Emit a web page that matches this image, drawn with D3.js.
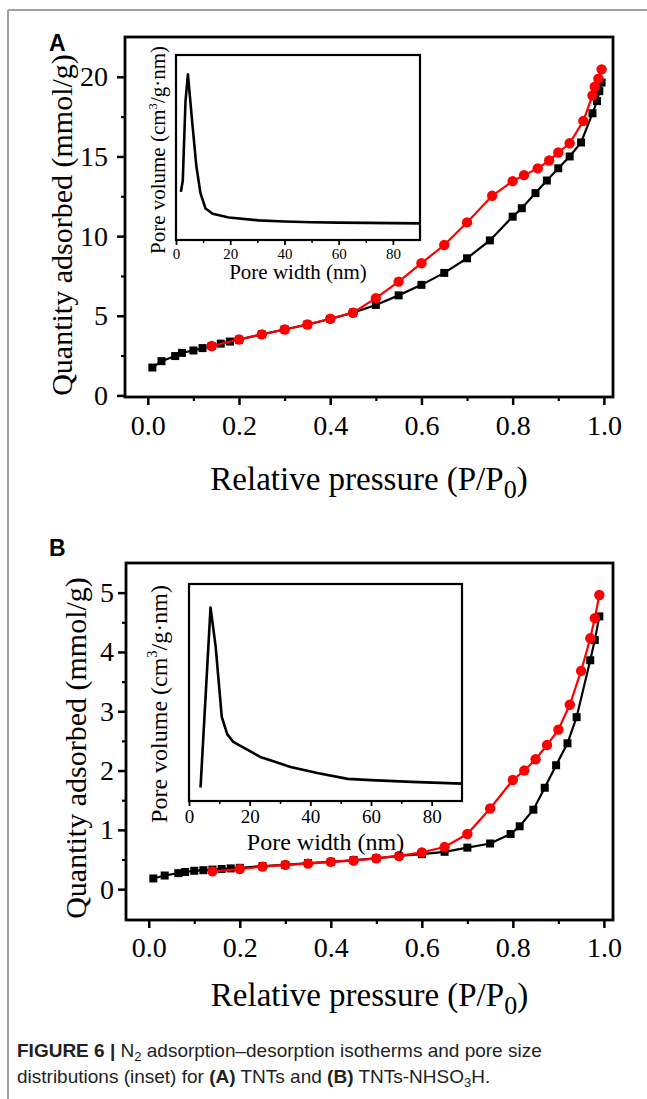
<!DOCTYPE html>
<html>
<head>
<meta charset="utf-8">
<script src="https://cdn.jsdelivr.net/npm/d3@7"></script>
<style>
html,body{margin:0;padding:0;background:#fff;}
svg{display:block;}
</style>
</head>
<body>
<svg id="fig" width="647" height="1099"></svg>
<script>
// ---------------- DATA ----------------
// Panel A (TNTs) – adsorption (black squares)
const aAdsP = [0.01,0.03,0.06,0.075,0.10,0.12,0.14,0.16,0.18,0.20,0.25,0.30,0.35,0.40,0.45,0.50,0.55,0.60,0.65,0.70,0.75,0.80,0.82,0.85,0.875,0.90,0.925,0.95,0.975,0.985,0.99,0.995];
const aAdsQ = [1.75,2.15,2.47,2.67,2.82,2.97,3.10,3.25,3.38,3.50,3.83,4.14,4.45,4.80,5.20,5.68,6.28,6.94,7.69,8.61,9.73,11.22,11.75,12.70,13.49,14.26,15.00,15.88,17.71,18.48,19.10,19.64];
// Panel A – desorption (red circles)
const aDesP = [0.14,0.20,0.25,0.30,0.35,0.40,0.45,0.50,0.55,0.60,0.65,0.70,0.755,0.80,0.825,0.855,0.88,0.90,0.925,0.955,0.975,0.98,0.988,0.995];
const aDesQ = [3.10,3.51,3.83,4.14,4.45,4.81,5.19,6.11,7.14,8.30,9.44,10.86,12.53,13.45,13.83,14.25,14.75,15.25,15.83,17.23,18.83,19.38,19.88,20.47];
// Panel A inset – pore size distribution (arbitrary units)
const aPoreW = [1.8,2.5,3.5,4.4,5.9,7.5,9.0,10.9,13.5,19.5,30.6,40,50,60,90];
const aPoreV = [2.6,3.2,7.5,8.95,6.5,4.0,2.55,1.7,1.42,1.22,1.06,1.0,0.96,0.94,0.9];

// Panel B (TNTs-NHSO3H) – adsorption
const bAdsP = [0.01,0.035,0.065,0.08,0.10,0.12,0.14,0.16,0.18,0.20,0.25,0.30,0.35,0.40,0.45,0.50,0.55,0.60,0.65,0.70,0.75,0.795,0.815,0.845,0.87,0.895,0.92,0.94,0.97,0.98,0.99];
const bAdsQ = [0.18,0.23,0.27,0.29,0.31,0.32,0.33,0.34,0.35,0.36,0.39,0.41,0.44,0.46,0.49,0.52,0.56,0.59,0.63,0.70,0.77,0.93,1.06,1.34,1.71,2.09,2.46,2.90,3.86,4.20,4.60];
// Panel B – desorption
const bDesP = [0.14,0.20,0.25,0.30,0.35,0.40,0.45,0.50,0.55,0.60,0.65,0.70,0.75,0.80,0.825,0.85,0.875,0.90,0.925,0.95,0.97,0.98,0.99];
const bDesQ = [0.30,0.34,0.38,0.41,0.43,0.46,0.48,0.52,0.56,0.62,0.71,0.93,1.36,1.84,2.00,2.19,2.43,2.69,3.11,3.68,4.23,4.57,4.96];
// Panel B inset
const bPoreW = [3.8,7.1,8.8,10.8,12.6,14.6,23.5,33.5,42.3,52.3,60,73.3,90];
const bPoreV = [0.62,8.92,7.1,3.88,3.08,2.72,2.03,1.57,1.29,1.02,0.96,0.88,0.80];

// Ticks
const xTicks = [0,0.2,0.4,0.6,0.8,1.0];
const xMinor = [0.1,0.3,0.5,0.7,0.9];
const aYTicks = [0,5,10,15,20];
const aYMinor = [2.5,7.5,12.5,17.5];
const bYTicks = [0,1,2,3,4,5];
const bYMinor = [0.5,1.5,2.5,3.5,4.5];
const insetTicks = [0,20,40,60,80];
const insetMinor = [10,30,50,70];

// -------------- DRAW --------------
const svg = d3.select('#fig');
const SERIF = '"Liberation Serif","Times New Roman",serif';
const SANS = '"Liberation Sans",Arial,sans-serif';

// figure border (top and left)
svg.append('line').attr('x1',8).attr('x2',647).attr('y1',10).attr('y2',10).attr('stroke','#a0a0a0').attr('stroke-width',2);
svg.append('line').attr('x1',8).attr('x2',8).attr('y1',10).attr('y2',1099).attr('stroke','#a0a0a0').attr('stroke-width',2);

function panel(cfg){
  const g = svg.append('g');
  const x = d3.scaleLinear().domain([-0.05,1.02]).range([cfg.left,cfg.right]);
  const y = d3.scaleLinear().domain(cfg.yDomain).range([cfg.bottom,cfg.top]);

  // minor ticks
  g.append('g').attr('transform',`translate(0,${cfg.bottom})`)
    .call(d3.axisBottom(x).tickValues(xMinor).tickSize(4).tickFormat(''))
    .call(a=>{a.select('.domain').remove(); a.selectAll('line').attr('stroke-width',2.2);});
  g.append('g').attr('transform',`translate(${cfg.left},0)`)
    .call(d3.axisLeft(y).tickValues(cfg.yMinor).tickSize(4).tickFormat(''))
    .call(a=>{a.select('.domain').remove(); a.selectAll('line').attr('stroke-width',2.2);});
  // major ticks
  g.append('g').attr('transform',`translate(0,${cfg.bottom})`)
    .call(d3.axisBottom(x).tickValues(xTicks).tickSize(8).tickPadding(cfg.xPad).tickFormat(d3.format('.1f')))
    .call(a=>{a.select('.domain').remove(); a.selectAll('line').attr('stroke-width',2.5);
      a.selectAll('text').attr('font-family',SERIF).attr('font-size',28).attr('fill','#000');});
  g.append('g').attr('transform',`translate(${cfg.left},0)`)
    .call(d3.axisLeft(y).tickValues(cfg.yTicks).tickSize(8).tickPadding(cfg.yPad).tickFormat(d3.format('d')))
    .call(a=>{a.select('.domain').remove(); a.selectAll('line').attr('stroke-width',2.5);
      a.selectAll('text').attr('font-family',SERIF).attr('font-size',28).attr('fill','#000');});

  // data
  const line = d3.line().x(d=>x(d[0])).y(d=>y(d[1]));
  const ads = cfg.adsP.map((p,i)=>[p,cfg.adsQ[i]]);
  const des = cfg.desP.map((p,i)=>[p,cfg.desQ[i]]);
  g.append('path').datum(ads).attr('d',line).attr('fill','none').attr('stroke','#000').attr('stroke-width',2.2);
  g.selectAll('rect.sq').data(ads).join('rect').attr('class','sq')
    .attr('x',d=>x(d[0])-4).attr('y',d=>y(d[1])-4).attr('width',8).attr('height',8).attr('fill','#000');
  g.append('path').datum(des).attr('d',line).attr('fill','none').attr('stroke','#ff0000').attr('stroke-width',2.2);
  g.selectAll('circle.ci').data(des).join('circle').attr('class','ci')
    .attr('cx',d=>x(d[0])).attr('cy',d=>y(d[1])).attr('r',5.2).attr('fill','#ff0000');

  // frame
  g.append('rect').attr('x',cfg.left).attr('y',cfg.top).attr('width',cfg.right-cfg.left).attr('height',cfg.bottom-cfg.top)
    .attr('fill','none').attr('stroke','#000').attr('stroke-width',2.8);

  // axis titles
  g.append('text').attr('transform',`translate(${cfg.yTitleX},${cfg.yTitleY}) rotate(-90)`)
    .attr('text-anchor','middle').attr('font-family',SERIF).attr('font-size',30)
    .text('Quantity adsorbed (mmol/g)');
  const xt = g.append('text').attr('x',(cfg.left+cfg.right)/2).attr('y',cfg.xTitleY)
    .attr('text-anchor','middle').attr('font-family',SERIF).attr('font-size',33);
  xt.append('tspan').text('Relative pressure (P/P');
  xt.append('tspan').attr('font-size',26).attr('dy',8).text('0');
  xt.append('tspan').attr('dy',-8).text(')');

  // panel letter
  g.append('text').attr('x',49).attr('y',cfg.letterY).attr('font-family',SANS).attr('font-weight','bold')
    .attr('font-size',23).text(cfg.letter);

  // inset
  const ins = cfg.inset;
  const ix = d3.scaleLinear().domain([0,90]).range([ins.left,ins.right]);
  const iy = d3.scaleLinear().domain([0,10]).range([ins.bottom,ins.top]);
  const ig = g.append('g');
  ig.append('rect').attr('x',ins.left).attr('y',ins.top).attr('width',ins.right-ins.left).attr('height',ins.bottom-ins.top).attr('fill','#fff');
  ig.append('g').attr('transform',`translate(0,${ins.bottom})`)
    .call(d3.axisBottom(ix).tickValues(insetMinor).tickSize(3).tickFormat(''))
    .call(a=>{a.select('.domain').remove(); a.selectAll('line').attr('stroke-width',1.5);});
  ig.append('g').attr('transform',`translate(0,${ins.bottom})`)
    .call(d3.axisBottom(ix).tickValues(insetTicks).tickSize(5).tickPadding(ins.pad).tickFormat(d3.format('d')))
    .call(a=>{a.select('.domain').remove(); a.selectAll('line').attr('stroke-width',1.8);
      a.selectAll('text').attr('font-family',SERIF).attr('font-size',ins.tickFs).attr('fill','#000');});
  const il = d3.line().x(d=>ix(d[0])).y(d=>iy(d[1]));
  ig.append('path').datum(ins.w.map((w,i)=>[w,ins.v[i]])).attr('d',il).attr('fill','none')
    .attr('stroke','#000').attr('stroke-width',2.6).attr('stroke-linejoin','round');
  ig.append('rect').attr('x',ins.left).attr('y',ins.top).attr('width',ins.right-ins.left).attr('height',ins.bottom-ins.top)
    .attr('fill','none').attr('stroke','#000').attr('stroke-width',2.2);
  ig.append('text').attr('x',(ins.left+ins.right)/2).attr('y',ins.xTitleY).attr('text-anchor','middle')
    .attr('font-family',SERIF).attr('font-size',ins.titleFs).text('Pore width (nm)');
  const yl = ig.append('text').attr('transform',`translate(${ins.yTitleX},${ins.yTitleY}) rotate(-90)`)
    .attr('text-anchor','middle').attr('font-family',SERIF).attr('font-size',ins.titleFs);
  yl.append('tspan').text(ins.yLabel1);
  yl.append('tspan').attr('font-size',ins.titleFs*0.6).attr('dy',-ins.titleFs*0.4).text('3');
  yl.append('tspan').attr('dy',ins.titleFs*0.4).text('/g·nm)');
}

panel({
  left:125,right:613,top:37,bottom:397,yDomain:[-0.1,22.5],yTicks:aYTicks,yMinor:aYMinor,
  xPad:10.5,yPad:9,yTitleX:72,yTitleY:225,xTitleY:490,letter:'A',letterY:51,
  adsP:aAdsP,adsQ:aAdsQ,desP:aDesP,desQ:aDesQ,
  inset:{left:176,right:420,top:55,bottom:240,w:aPoreW,v:aPoreV,pad:3,tickFs:15,titleFs:21,
    xTitleY:279,yTitleX:165,yTitleY:150,yLabel1:'Pore volume (cm'}
});
panel({
  left:126,right:613,top:563,bottom:920,yDomain:[-0.52,5.5],yTicks:bYTicks,yMinor:bYMinor,
  xPad:9,yPad:4,yTitleX:86,yTitleY:748,xTitleY:1006,letter:'B',letterY:556,
  adsP:bAdsP,adsQ:bAdsQ,desP:bDesP,desQ:bDesQ,
  inset:{left:189,right:462,top:584,bottom:801,w:bPoreW,v:bPoreV,pad:4,tickFs:19,titleFs:24,
    xTitleY:850,yTitleX:167,yTitleY:704,yLabel1:'Pore volume  (cm'}
});

// caption
const cap = svg.append('g').attr('font-family',SANS).attr('font-size',19).attr('fill','#222');
const c1 = cap.append('text').attr('x',17).attr('y',1057);
c1.append('tspan').attr('font-weight','bold').text('FIGURE 6 | ');
c1.append('tspan').text('N');
c1.append('tspan').attr('font-size',13).attr('dy',4).text('2');
c1.append('tspan').attr('dy',-4).text(' adsorption–desorption isotherms and pore size');
const c2 = cap.append('text').attr('x',17).attr('y',1083);
c2.append('tspan').text('distributions (inset) for ');
c2.append('tspan').attr('font-weight','bold').text('(A)');
c2.append('tspan').text(' TNTs and ');
c2.append('tspan').attr('font-weight','bold').text('(B)');
c2.append('tspan').text(' TNTs-NHSO');
c2.append('tspan').attr('font-size',13).attr('dy',4).text('3');
c2.append('tspan').attr('dy',-4).text('H.');
</script>
</body>
</html>
